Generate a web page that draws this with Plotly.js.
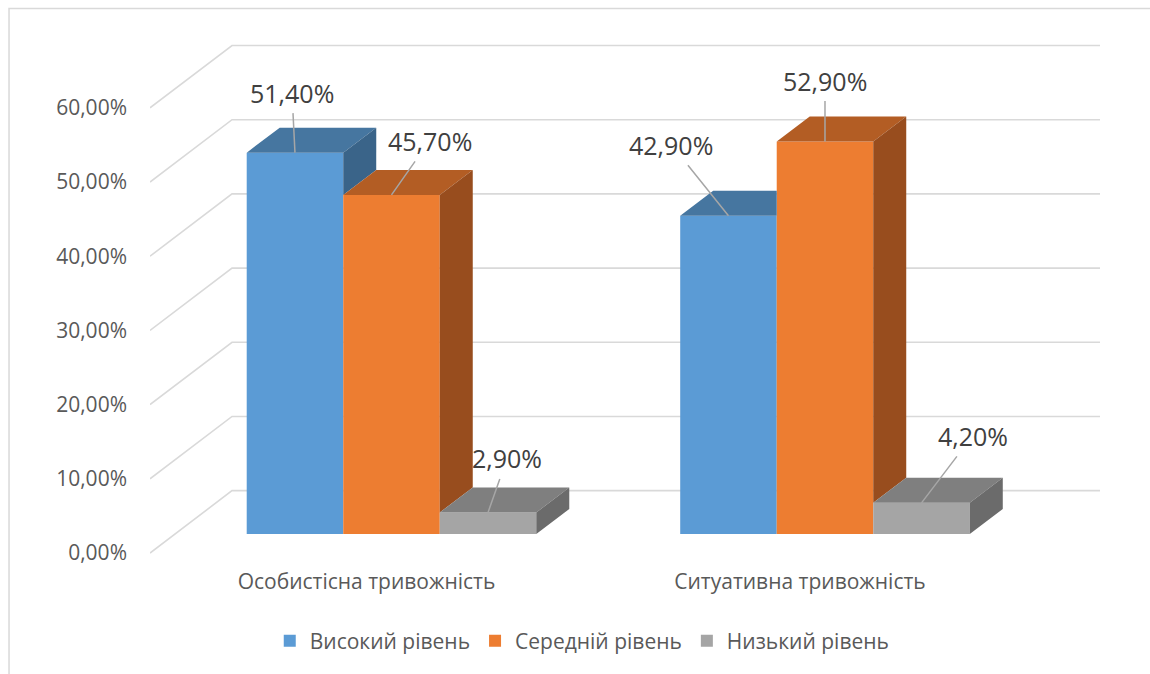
<!DOCTYPE html>
<html>
<head>
<meta charset="utf-8">
<script src="https://cdn.plot.ly/plotly-3.0.1.min.js"></script>
<style>html,body{margin:0;padding:0;background:#fff;}#chart{width:1150px;height:674px;}</style>
</head>
<body>
<div id="chart"></div>
<script>
// ---- data ----
const categories = ['Особистісна тривожність', 'Ситуативна тривожність'];
const seriesNames = ['Високий рівень', 'Середній рівень', 'Низький рівень'];
const highLevel = [51.4, 42.9];
const midLevel = [45.7, 52.9];
const lowLevel = [2.9, 4.2];
const yTicks = [0, 10, 20, 30, 40, 50, 60];

// ---- styles ----
const frontColors = ['#5B9BD5', '#ED7D31', '#A5A5A5'];
const topColors = ['#4676A0', '#B35D24', '#7F7F7F'];
const sideColors = ['#3A6489', '#984D1E', '#6B6B6B'];
const labelOffsets = [ // [ax, ay] pixel offsets of data labels, per series per category
  [[-3, -60], [-57, -71]],
  [[38, -54], [0, -61]],
  [[19, -54], [51, -67]]
];
const FONT = 'Open Sans, Noto Sans, sans-serif';
const AXIS_FONT_SIZE = 21;

const series = [highLevel, midLevel, lowLevel];
const bargap = 0.332;
const barW = (1 - bargap) / 3;
// perspective offsets (in axis units)
const DX = 0.0761, DY = 3.37;          // bar depth
const BACK_DX = 0.1315, BACK_DY = 5.84; // back wall offset from bar plane
const FRONT_DX = -0.0577, FRONT_DY = -2.56; // front edge offset from bar plane
const xRange = [-0.5571, 1.6344];
const yRange = [-3.504, 66.58];

const fmt = v => v.toFixed(2).replace('.', ',') + '%';

const traces = [];
series.forEach((vals, k) => {
  traces.push({
    type: 'bar', x: categories.map((c, i) => i), y: vals, name: seriesNames[k],
    marker: {color: frontColors[k], line: {width: 0}},
    hoverinfo: 'skip'
  });
});

// top and side faces
series.forEach((vals, k) => {
  const tx = [], ty = [], sx = [], sy = [];
  vals.forEach((v, i) => {
    const xc = i + (k - 1) * barW;
    const x0 = xc - barW / 2, x1 = xc + barW / 2;
    const vn = k < series.length - 1 ? series[k + 1][i] : 0;
    if (vn > v) {
      tx.push(x0, x1, x1, x0 + DX, x0, null);
      ty.push(v, v, v + DY, v + DY, v, null);
    } else {
      tx.push(x0, x1, x1 + DX, x0 + DX, x0, null);
      ty.push(v, v, v + DY, v + DY, v, null);
      sx.push(x1, x1, x1 + DX, x1 + DX, x1, null);
      sy.push(vn, v, v + DY, vn + DY, vn, null);
    }
  });
  traces.push({type: 'scatter', mode: 'lines', x: tx, y: ty, fill: 'toself', fillcolor: topColors[k],
    line: {width: 0, color: topColors[k]}, showlegend: false, hoverinfo: 'skip'});
  if (sx.length) traces.push({type: 'scatter', mode: 'lines', x: sx, y: sy, fill: 'toself', fillcolor: sideColors[k],
    line: {width: 0, color: sideColors[k]}, showlegend: false, hoverinfo: 'skip'});
});

// gridlines (left wall diagonal + back wall horizontal)
const xFrontLeft = xRange[0];
const xBackLeft = xFrontLeft + (BACK_DX - FRONT_DX);
const shapes = yTicks.map(v => ({
  type: 'path', xref: 'x', yref: 'y', layer: 'below',
  path: `M ${xFrontLeft},${v + FRONT_DY} L ${xBackLeft},${v + BACK_DY} L ${xRange[1]},${v + BACK_DY}`,
  line: {color: '#D9D9D9', width: 1.6}
}));
shapes.push({type: 'rect', xref: 'paper', yref: 'paper', layer: 'below',
  x0: -0.1484, x1: 1.08, y0: -0.3, y1: 1.0606, line: {color: '#D9D9D9', width: 1.5}});

const annotations = [];
series.forEach((vals, k) => {
  vals.forEach((v, i) => {
    annotations.push({
      x: i + (k - 1) * barW, y: v, xref: 'x', yref: 'y', text: fmt(v),
      showarrow: true, arrowhead: 0, arrowwidth: 1.5, arrowcolor: '#A6A6A6',
      ax: labelOffsets[k][i][0], ay: labelOffsets[k][i][1], borderpad: 3,
      font: {family: FONT, size: 25, color: '#404040'}
    });
  });
});

const layout = {
  width: 1150, height: 674,
  margin: {l: 150, r: 50, t: 40, b: 114},
  paper_bgcolor: '#FFFFFF', plot_bgcolor: 'rgba(0,0,0,0)',
  barmode: 'group', bargap: bargap, bargroupgap: 0,
  font: {family: FONT, size: AXIS_FONT_SIZE, color: '#595959'},
  xaxis: {
    type: 'linear', range: xRange, showgrid: false, zeroline: false, showline: false,
    tickmode: 'array', tickvals: categories.map((c, i) => i + FRONT_DX), ticktext: categories,
    ticks: '', ticklabelstandoff: 7, tickfont: {family: FONT, size: AXIS_FONT_SIZE, color: '#595959'}
  },
  yaxis: {
    range: yRange, showgrid: false, zeroline: false, showline: false,
    tickmode: 'array', tickvals: yTicks.map(v => v + FRONT_DY), ticktext: yTicks.map(fmt),
    ticks: '', ticklabelstandoff: 22, tickfont: {family: FONT, size: AXIS_FONT_SIZE, color: '#595959'}
  },
  legend: {orientation: 'h', x: 0.455, xanchor: 'center', y: -0.1558, yanchor: 'middle',
    font: {family: FONT, size: AXIS_FONT_SIZE, color: '#595959'}, traceorder: 'normal'},
  shapes: shapes,
  annotations: annotations,
  showlegend: true
};

Plotly.newPlot('chart', traces, layout, {displayModeBar: false, staticPlot: true});
</script>
</body>
</html>
